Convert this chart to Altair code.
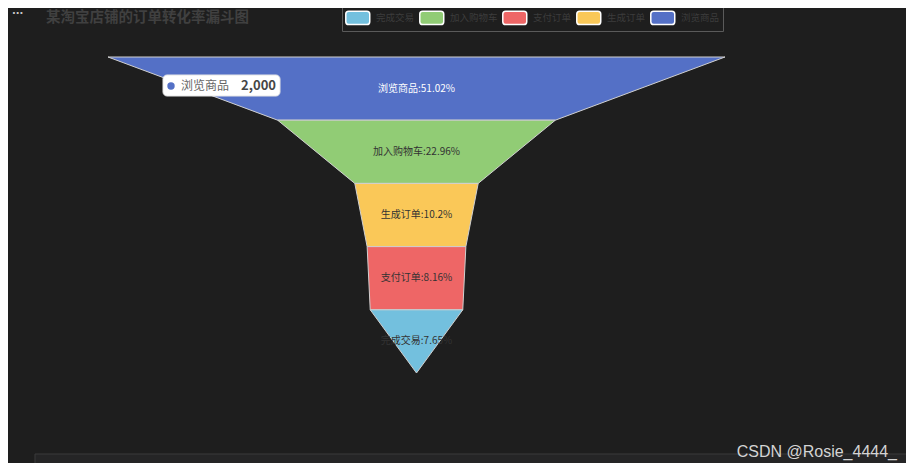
import altair as alt
import pandas as pd

# ---- data ----
stages = ["浏览商品", "加入购物车", "生成订单", "支付订单", "完成交易"]
values = [2000, 900, 400, 320, 300]
legend_order = ["完成交易", "加入购物车", "支付订单", "生成订单", "浏览商品"]
legend_colors = ["#73c0de", "#91cc75", "#ee6666", "#fac858", "#5470c6"]
title_text = "某淘宝店铺的订单转化率漏斗图"
watermark = "CSDN @Rosie_4444_"

FONT = "Noto Sans CJK SC"
BG = "#1e1e1e"

total = sum(values)
vmax = max(values)

# funnel polygons: each stage goes from its own width (top) to the next stage's width (bottom)
rows = []
for i, (s, v) in enumerate(zip(stages, values)):
    nxt = values[i + 1] if i + 1 < len(values) else 0
    rows.append({"stage": s, "pos": i, "lo": -v / 2, "hi": v / 2})
    rows.append({"stage": s, "pos": i + 1, "lo": -nxt / 2, "hi": nxt / 2})
poly = pd.DataFrame(rows)

labels = pd.DataFrame({
    "stage": stages,
    "value": values,
    "mid": [i + 0.5 for i in range(len(stages))],
    "label": [f"{s}:{round(v / total * 100, 2):g}%" for s, v in zip(stages, values)],
})

xscale = alt.Scale(domain=[-vmax / 2, vmax / 2], range=[100, 717])
yscale = alt.Scale(domain=[0, len(stages)], range=[49, 365])

sym = ("M-0.57,-1 H2.14 Q2.571,-1 2.571,-0.57 V0.57 Q2.571,1 2.14,1 "
       "H-0.57 Q-1,1 -1,0.57 V-0.57 Q-1,-1 -0.57,-1 Z")

funnel = alt.Chart(poly).mark_area(
    orient="horizontal", stroke="#d0d0d0", strokeWidth=1, opacity=1
).encode(
    y=alt.Y("pos:Q", scale=yscale, axis=None),
    x=alt.X("lo:Q", scale=xscale, axis=None),
    x2="hi:Q",
    color=alt.Color(
        "stage:N",
        scale=alt.Scale(domain=legend_order, range=legend_colors),
        legend=alt.Legend(
            orient="none", legendX=334, legendY=-1, direction="horizontal",
            title=None, symbolType=sym, symbolSize=180,
            symbolStrokeColor="#ffffff", symbolStrokeWidth=1.5, symbolOpacity=1,
            labelColor="#3c3c3c", labelFontSize=9.5, labelFont=FONT,
            labelOffset=16, columnPadding=1, padding=3,
            strokeColor="#5a5a5a", fillColor=BG, cornerRadius=0,
        ),
    ),
    detail="stage:N",
)

seg_labels = alt.Chart(labels).mark_text(
    font=FONT, fontSize=10, align="center", baseline="middle"
).encode(
    x=alt.value(408.5),
    y=alt.Y("mid:Q", scale=yscale, axis=None),
    text="label:N",
    color=alt.condition(alt.datum.stage == stages[0], alt.value("#ffffff"), alt.value("#333333")),
)

tip_data = labels[labels["stage"] == stages[0]]
tip_box = alt.Chart(tip_data).mark_rect(
    fill="#ffffff", cornerRadius=4, stroke="#e6e6e6", strokeWidth=1
).encode(x=alt.value(155), x2=alt.value(272), y=alt.value(67), y2=alt.value(88))
tip_dot = alt.Chart(tip_data).mark_point(
    shape="circle", filled=True, size=55, color="#5470c6", opacity=1
).encode(x=alt.value(163), y=alt.value(78))
tip_name = alt.Chart(tip_data).mark_text(
    font=FONT, fontSize=12, align="left", baseline="middle", color="#666666"
).encode(x=alt.value(173), y=alt.value(78), text="stage:N")
tip_val = alt.Chart(tip_data).mark_text(
    font=FONT, fontSize=13, fontWeight="bold", align="right", baseline="middle", color="#464646"
).encode(x=alt.value(268), y=alt.value(78), text=alt.Text("value:Q", format=","))

title = alt.Chart(pd.DataFrame({"t": [title_text]})).mark_text(
    font=FONT, fontSize=14.5, fontWeight="bold", align="left", baseline="middle", color="#404040"
).encode(x=alt.value(38), y=alt.value(10), text="t:N")

dots = alt.Chart(pd.DataFrame({"t": ["···"]})).mark_text(
    font="DejaVu Sans", fontSize=10, fontWeight="bold", align="left", baseline="middle", color="#c8c8c8"
).encode(x=alt.value(4), y=alt.value(6), text="t:N")

panel = alt.Chart(pd.DataFrame({"t": [1]})).mark_rect(
    fill="#252526", stroke="#3a3a3a", strokeWidth=1
).encode(x=alt.value(27), x2=alt.value(905), y=alt.value(446), y2=alt.value(470))

wm = alt.Chart(pd.DataFrame({"t": [watermark]})).mark_text(
    font="Liberation Sans", fontSize=16, align="right", baseline="middle", color="#d4d4d4"
).encode(x=alt.value(889), y=alt.value(444), text="t:N")

chart = alt.layer(
    panel, funnel, seg_labels, tip_box, tip_dot, tip_name, tip_val, title, dots, wm
).properties(
    width=898, height=455, padding=0, autosize=alt.AutoSizeParams(type="none"),
    background=BG,
).configure_view(stroke=None)

chart.save("out.html", embed_options={"renderer": "svg", "actions": False})
